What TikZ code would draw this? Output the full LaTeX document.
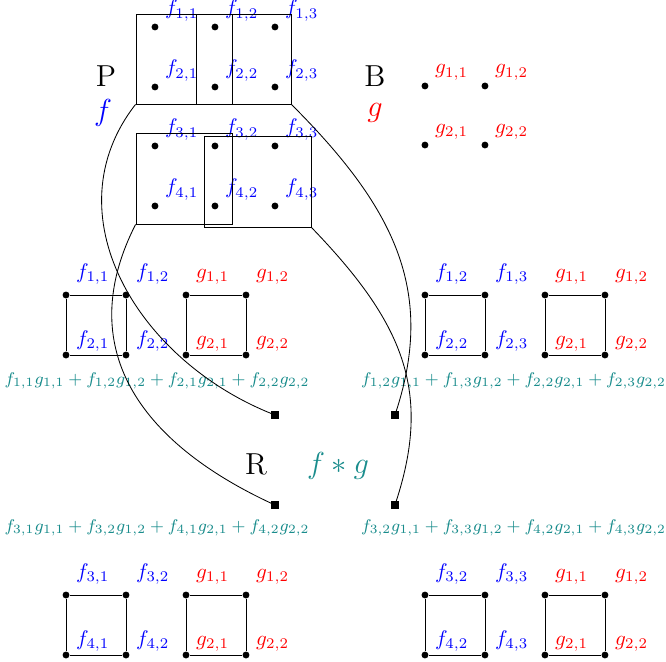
\documentclass[tikz,border=0pt]{standalone}
\usetikzlibrary{calc}
\begin{document}
\begin{tikzpicture}
        \tikzstyle{pt} = [circle, fill=black, inner sep=0pt, minimum size=1.15mm]
        \tikzstyle{res} = [rectangle, fill=black, inner sep=0pt, minimum size=1.2mm]
        \tikzstyle{box} = [rectangle, draw=black, inner sep=0pt]
        \tikzstyle{fl} = [text=blue, yshift=-2pt]
        \tikzstyle{gl} = [text=red, yshift=-2pt]
        \tikzstyle{somme} = [text=teal!90, font=\fontsize{8.5}{10}\selectfont, inner sep=0pt]
        \useasboundingbox (0,0) rectangle (11.1,-11.017);

        % image P et ses fenetres
        \node (titre_p) at (1.767,-1.267) {\Large P};
        \node (nom_f) [text=blue] at (1.717,-1.883) {\Large $f$};
        \node (f11) [pt, label={[fl]above right:$f_{1,1}$}] at (2.583,-0.45) {};
        \node (f12) [pt, label={[fl]above right:$f_{1,2}$}] at (3.583,-0.45) {};
        \node (f13) [pt, label={[fl]above right:$f_{1,3}$}] at (4.583,-0.45) {};
        \node (f21) [pt, label={[fl]above right:$f_{2,1}$}] at (2.583,-1.45) {};
        \node (f22) [pt, label={[fl]above right:$f_{2,2}$}] at (3.583,-1.45) {};
        \node (f23) [pt, label={[fl]above right:$f_{2,3}$}] at (4.583,-1.45) {};
        \node (f31) [pt, label={[fl]above right:$f_{3,1}$}] at (2.583,-2.433) {};
        \node (f32) [pt, label={[fl]above right:$f_{3,2}$}] at (3.583,-2.433) {};
        \node (f33) [pt, label={[fl]above right:$f_{3,3}$}] at (4.583,-2.433) {};
        \node (f41) [pt, label={[fl]above right:$f_{4,1}$}] at (2.583,-3.433) {};
        \node (f42) [pt, label={[fl]above right:$f_{4,2}$}] at (3.583,-3.433) {};
        \node (f43) [pt, label={[fl]above right:$f_{4,3}$}] at (4.583,-3.433) {};
        \node (win1) [box, minimum width=2.583cm, minimum height=1.5cm] at (3.558,-0.983) {};
        \node (win2) [box, minimum width=0.6cm, minimum height=1.5cm] at (3.567,-0.983) {};
        \node (win3) [box, minimum width=1.6cm, minimum height=1.517cm] at (3.067,-2.975) {};
        \node (win4) [box, minimum width=1.783cm, minimum height=1.517cm] at (4.292,-3.025) {};

        % noyau B
        \node (titre_b) at (6.25,-1.267) {\Large B};
        \node (nom_g) [text=red] at (6.25,-1.883) {\Large $g$};
        \node (g11) [pt, label={[gl]above right:$g_{1,1}$}] at (7.083,-1.433) {};
        \node (g12) [pt, label={[gl]above right:$g_{1,2}$}] at (8.083,-1.433) {};
        \node (g21) [pt, label={[gl]above right:$g_{2,1}$}] at (7.083,-2.417) {};
        \node (g22) [pt, label={[gl]above right:$g_{2,2}$}] at (8.083,-2.417) {};

        % produits fenetre par noyau
        \foreach \n/\x/\y/\c/\s/\a/\b/\cc/\d in {
            sqa/1.1/-4.917/blue/f/{1,1}/{1,2}/{2,1}/{2,2},
            sqb/3.1/-4.917/red/g/{1,1}/{1,2}/{2,1}/{2,2},
            sqc/7.083/-4.917/blue/f/{1,2}/{1,3}/{2,2}/{2,3},
            sqd/9.083/-4.917/red/g/{1,1}/{1,2}/{2,1}/{2,2},
            sqe/1.1/-9.917/blue/f/{3,1}/{3,2}/{4,1}/{4,2},
            sqf/3.1/-9.917/red/g/{1,1}/{1,2}/{2,1}/{2,2},
            sqg/7.083/-9.917/blue/f/{3,2}/{3,3}/{4,2}/{4,3},
            sqh/9.083/-9.917/red/g/{1,1}/{1,2}/{2,1}/{2,2}} {
            \node (\n-a) [pt, label={[text=\c]above right:$\s_{\a}$}] at (\x,\y) {};
            \node (\n-b) [pt, label={[text=\c]above right:$\s_{\b}$}] at (\x+1,\y) {};
            \node (\n-c) [pt, label={[text=\c,yshift=-3pt]above right:$\s_{\cc}$}] at (\x,\y-1) {};
            \node (\n-d) [pt, label={[text=\c,yshift=-3pt]above right:$\s_{\d}$}] at (\x+1,\y-1) {};
            \draw (\n-a) -- (\n-b) -- (\n-d) -- (\n-c) -- (\n-a);
        }

        \node (somme11) [somme] at (2.617,-6.35) {$f_{1,1}g_{1,1}+f_{1,2}g_{1,2}+f_{2,1}g_{2,1}+f_{2,2}g_{2,2}$};
        \node (somme12) [somme] at (8.56,-6.35) {$f_{1,2}g_{1,1}+f_{1,3}g_{1,2}+f_{2,2}g_{2,1}+f_{2,3}g_{2,2}$};
        \node (somme21) [somme] at (2.617,-8.8) {$f_{3,1}g_{1,1}+f_{3,2}g_{1,2}+f_{4,1}g_{2,1}+f_{4,2}g_{2,2}$};
        \node (somme22) [somme] at (8.56,-8.8) {$f_{3,2}g_{1,1}+f_{3,3}g_{1,2}+f_{4,2}g_{2,1}+f_{4,3}g_{2,2}$};

        % resultat R
        \node (titre_r) at (4.267,-7.733) {\Large R};
        \node (nom_fg) [text=teal!90, font=\Large] at (5.633,-7.767) {$f*g$};
        \node (r11) [res] at (4.583,-6.917) {};
        \node (r12) [res] at (6.583,-6.917) {};
        \node (r21) [res] at (4.583,-8.417) {};
        \node (r22) [res] at (6.583,-8.417) {};

        \draw (win1.south west) .. controls +(-128:2.3) and +(158:2.5) .. (r11);
        \draw (win3.south west) .. controls +(-117:2.3) and +(155:2.5) .. (r21);
        \draw (win1.south east) .. controls +(-45:2.4) and +(72:2.2) .. (r12);
        \draw (win4.south east) .. controls +(-46:2.2) and +(72:2.0) .. (r22);
\end{tikzpicture}
\end{document}
